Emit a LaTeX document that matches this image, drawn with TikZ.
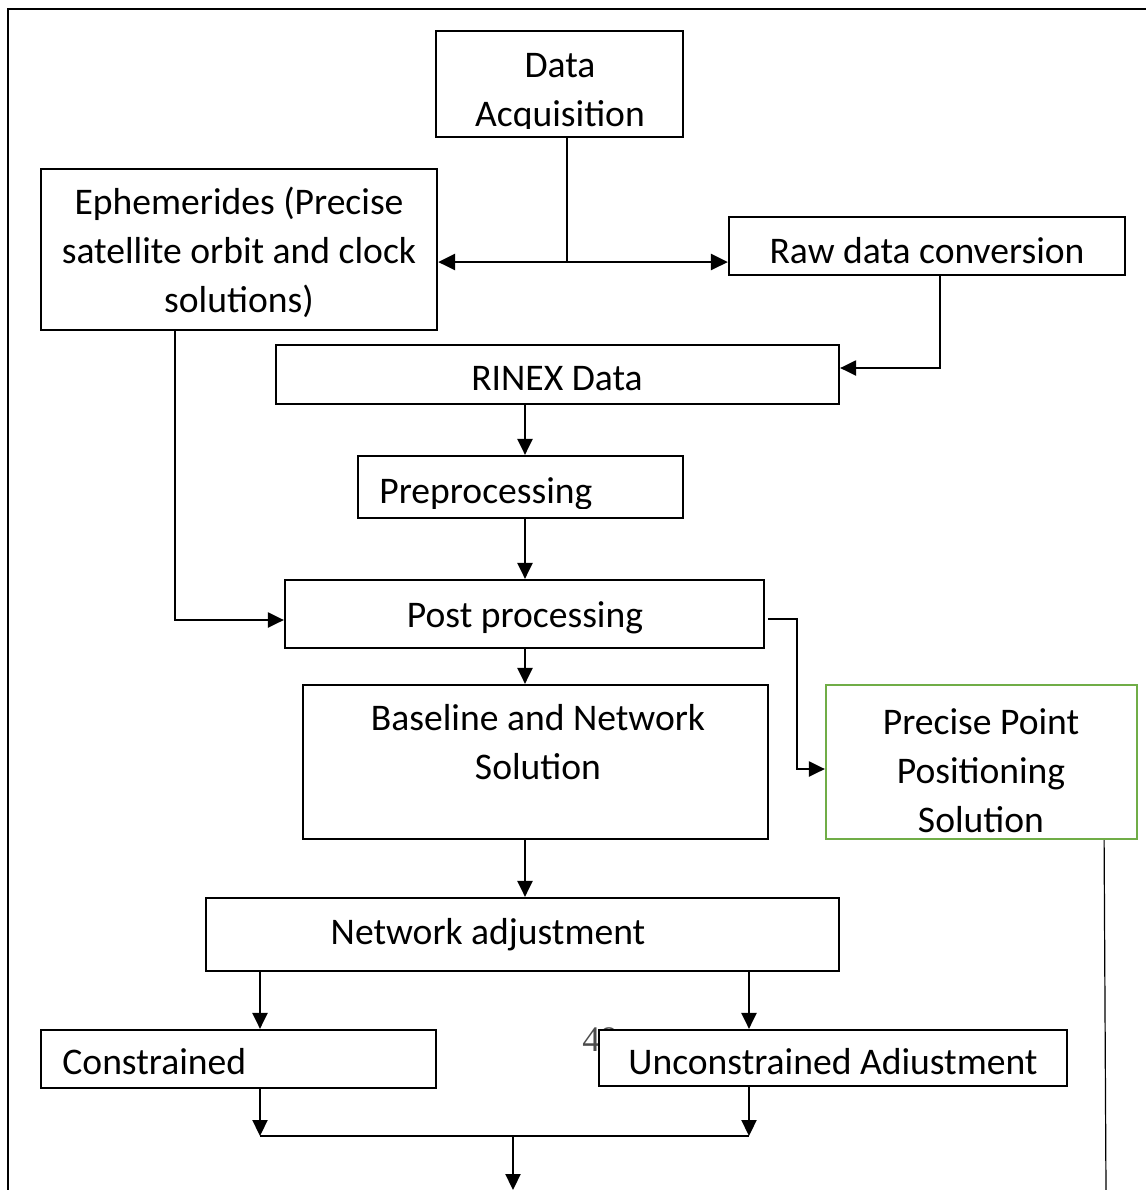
\documentclass[tikz,border=0pt]{standalone}
\usepackage{fontspec}
\setmainfont{Carlito}
\newfontfamily\pagefont{Liberation Serif}
\usetikzlibrary{arrows.meta}

\definecolor{pppgreen}{HTML}{70AD47}

\tikzset{
  blk/.style={draw, line width=1.1pt, fill=white, inner sep=0pt},
  sz/.style 2 args={minimum width=#1*0.5pt, minimum height=#2*0.5pt},
  txt/.style={font=\fontsize{18.8}{24.5}\selectfont, align=center, anchor=base, inner sep=0pt},
  arr/.style={line width=1.1pt, -{Triangle[length=8pt,width=7.5pt]}},
  thinln/.style={line width=0.6pt}
}

\begin{document}
\begin{tikzpicture}[x=0.5pt, y=-0.5pt]
  \useasboundingbox (0,0) rectangle (1146,1190);
  \draw[line width=1pt] (8,1190) -- (8,9) -- (1146,9);

  % page number, partly hidden behind a box
  \node[anchor=base west, inner sep=0pt, text=black!70, font=\pagefont\fontsize{18}{20}\selectfont] (pagenum) at (582,1051) {49};

  % boxes
  \node[blk, sz={247}{106}] (acq) at (559.5,84) {};
  \node[blk, sz={396}{161}] (eph) at (239,249.5) {};
  \node[blk, sz={396}{58}] (raw) at (927,246) {};
  \node[blk, sz={563}{59}] (rinex) at (557.5,374.5) {};
  \node[blk, sz={325}{62}] (pre) at (520.5,487) {};
  \node[blk, sz={479}{68}] (post) at (524.5,614) {};
  \node[blk, sz={465}{154}] (base) at (535.5,762) {};
  \node[blk, sz={311}{154}, draw=pppgreen] (ppp) at (981.5,762) {};
  \node[blk, sz={633}{73}] (netadj) at (522.5,934.5) {};
  \node[blk, sz={395}{58}] (con) at (238.5,1059) {};
  \node[blk, sz={468}{56}] (uncon) at (833,1058) {};

  % texts (multi-line ones sit on their last baseline)
  \begin{scope}
    \clip (acq.north west) rectangle ([yshift=5pt]acq.south east);
    \node[txt] (acq-t) at (560,126) {Data\\Acquisition};
  \end{scope}
  \node[txt] (eph-t) at (239,312) {Ephemerides (Precise\\satellite orbit and clock\\solutions)};
  \node[txt] (raw-t) at (927,263) {Raw data conversion};
  \node[txt] (rinex-t) at (557,390) {RINEX Data};
  \begin{scope}
    \clip (pre.north west) rectangle ([yshift=5.5pt]pre.south east);
    \node[txt, anchor=base west] (pre-t) at (379,503) {Preprocessing};
  \end{scope}
  \node[txt] (post-t) at (525,627) {Post processing};
  \node[txt] (base-t) at (538,779) {Baseline and Network\\Solution};
  \begin{scope}
    \clip (ppp.north west) rectangle ([yshift=4pt]ppp.south east);
    \node[txt] (ppp-t) at (981,832) {Precise Point\\Positioning\\Solution};
  \end{scope}
  \node[txt] (netadj-t) at (488,944) {Network adjustment};
  \node[txt, anchor=base west] (con-t) at (62,1074) {Constrained};
  \node[txt] (uncon-t) at (833,1074) {Unconstrained Adiustment};

  % helper points
  \coordinate (split) at (567,262);
  \coordinate (spine) at (525,0);
  \coordinate (bend) at (797,769);
  \coordinate (jl) at (260,1136);
  \coordinate (jr) at (749,1136);
  \coordinate (join) at (513,1136);
  \coordinate (out) at (513,1190);
  \coordinate (pppout) at (1106,1190);

  % connectors
  \draw[thinln] (acq.south -| split) -- (split);
  \draw[line width=1.4pt, {Triangle[length=8.5pt,width=8pt]}-{Triangle[length=8.5pt,width=8pt]}] (eph.east |- split) -- (raw.west |- split);
  \draw[arr] ([xshift=6.5pt]raw.south) |- ([yshift=3.25pt]rinex.east);
  \draw[arr] (spine |- rinex.south) -- (spine |- pre.north);
  \draw[arr] (spine |- pre.south) -- (spine |- post.north);
  \draw[arr] ([xshift=-32pt]eph.south) |- ([yshift=-3pt]post.west);
  \draw[arr] ([xshift=1.5pt,yshift=-2.5pt]post.east) -| (bend) -- (ppp.west |- bend);
  \draw[arr] (spine |- post.south) -- (spine |- base.north);
  \draw[arr] (spine |- base.south) -- (spine |- netadj.north);
  \draw[arr] (netadj.south -| jl) -- (con.north -| jl);
  \draw[arr] (netadj.south -| jr) -- (uncon.north -| jr);
  \draw[arr] (con.south -| jl) -- (jl);
  \draw[arr] (uncon.south -| jr) -- (jr);
  \draw[line width=1.1pt] (jl) -- (jr);
  \draw[arr] (join) -- (out);
  \draw[thinln] ([xshift=-17pt]ppp.south east) -- (pppout);
\end{tikzpicture}
\end{document}
